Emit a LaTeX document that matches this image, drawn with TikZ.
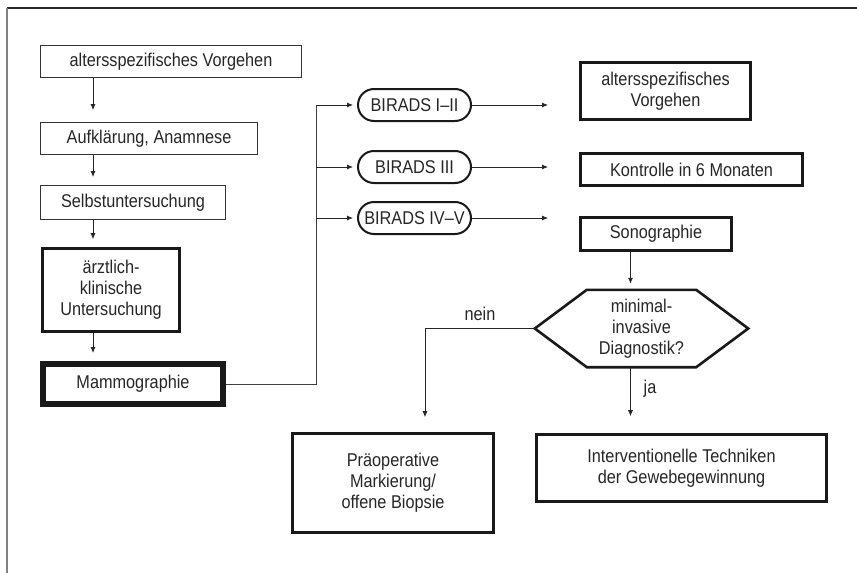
\documentclass[tikz,border=0pt]{standalone}
\usepackage{fontspec}
\setmainfont{Liberation Sans}[FakeStretch=0.88]
\usetikzlibrary{arrows.meta,calc}

\begin{document}
\begin{tikzpicture}[x=1pt,y=-1pt,
    every node/.style={font=\fontsize{18.5}{21}\selectfont, text=black!85, align=center},
    thinbox/.style={draw=black!80, line width=0.9pt, inner sep=0pt},
    thickbox/.style={draw=black!90, line width=2.6pt, inner sep=0pt},
    heavybox/.style={draw=black!90, line width=6pt, inner sep=0pt},
    oval/.style={draw=black!90, line width=2pt, rounded corners=16pt, inner sep=0pt,
      minimum width=113pt, minimum height=32pt},
    arr/.style={draw=black!85, line width=0.8pt, -{Latex[length=6pt,width=5pt]}},
    con/.style={draw=black!75, line width=0.8pt}]
    \useasboundingbox (0,0) rectangle (857,573);
    % frame
    \draw[black!85, line width=1.2pt] (857,8) -- (7,8);
    \draw[black!50, line width=2pt] (7,8) -- (7,573);

    % left column
    \node[thinbox, minimum width=261pt, minimum height=32pt] (alter) at (171,61.5) {altersspezifisches Vorgehen};
    \node[thinbox, minimum width=217pt, minimum height=32pt] (aufkl) at (149,138.5) {Aufklärung, Anamnese};
    \node[thinbox, minimum width=185pt, minimum height=34pt] (selbst) at (133,202.5) {Selbstuntersuchung};
    \node[thickbox, minimum width=137pt, minimum height=83pt] (klin) at (111,290) {ärztlich-\\klinische\\Untersuchung};
    \node[heavybox, minimum width=180pt, minimum height=40pt] (mammo) at (133,384) {Mammographie};

    \coordinate (lx) at (93,0);
    \draw[arr, shorten >=12pt] (alter.south -| lx) -- (aufkl.north -| lx);
    \foreach \a/\b in {aufkl/selbst, selbst/klin, klin/mammo}{%
      \draw[arr, shorten >=8pt] (\a.south -| lx) -- (\b.north -| lx);
    }

    % BIRADS classes
    \node[oval] (bir1) at (414.5,105) {BIRADS I–II};
    \node[oval] (bir2) at (414.5,167) {BIRADS III};
    \node[oval] (bir3) at (414.5,218) {BIRADS IV–V};

    \coordinate (bus) at (316,0);
    \draw[con] (mammo.east) -- (mammo.east -| bus) -- (bir1.west -| bus);
    \coordinate (rx) at (548,0);
    \foreach \b in {bir1,bir2,bir3}{%
      \draw[arr, shorten >=4pt] (\b.west -| bus) -- (\b.west);
      \draw[arr] (\b.east) -- (\b.east -| rx);
    }

    % right column
    \node[thickbox, minimum width=170pt, minimum height=57pt] (vorg) at (665.5,91) {altersspezifisches\\Vorgehen};
    \node[thickbox, minimum width=222pt, minimum height=32pt] (kontr) at (691.5,169.5) {Kontrolle in 6 Monaten};
    \node[thickbox, minimum width=151pt, minimum height=33pt] (sono) at (656,234) {Sonographie};

    % decision
    \node[minimum width=213pt, minimum height=77pt, inner sep=0pt] (diag) at (641.5,328.5) {minimal-\\invasive\\Diagnostik?};
    \draw[line width=2.6pt, black!90, line join=miter]
      (diag.west) -- ([xshift=52pt]diag.north west) -- ([xshift=-52pt]diag.north east)
      -- (diag.east) -- ([xshift=-52pt]diag.south east) -- ([xshift=52pt]diag.south west) -- cycle;

    \node[thickbox, minimum width=201pt, minimum height=99pt] (praeop) at (393,483) {Präoperative\\Markierung/\\offene Biopsie};
    \node[thickbox, minimum width=290pt, minimum height=67pt] (interv) at (681.5,468) {Interventionelle Techniken\\der Gewebegewinnung};

    \coordinate (dx) at (630.5,0);
    \coordinate (nx) at (425,0);
    \draw[arr, shorten >=6pt] (sono.south -| dx) -- (diag.north -| dx);
    \draw[arr, shorten >=17pt] (diag.south -| dx) -- (interv.north -| dx);
    \draw[arr, shorten >=15pt] (diag.west) -- (diag.west -| nx) -- (praeop.north -| nx);
    \node (nein) at (480,314) {nein};
    \node (ja) at (650,389) {ja};
\end{tikzpicture}
\end{document}
